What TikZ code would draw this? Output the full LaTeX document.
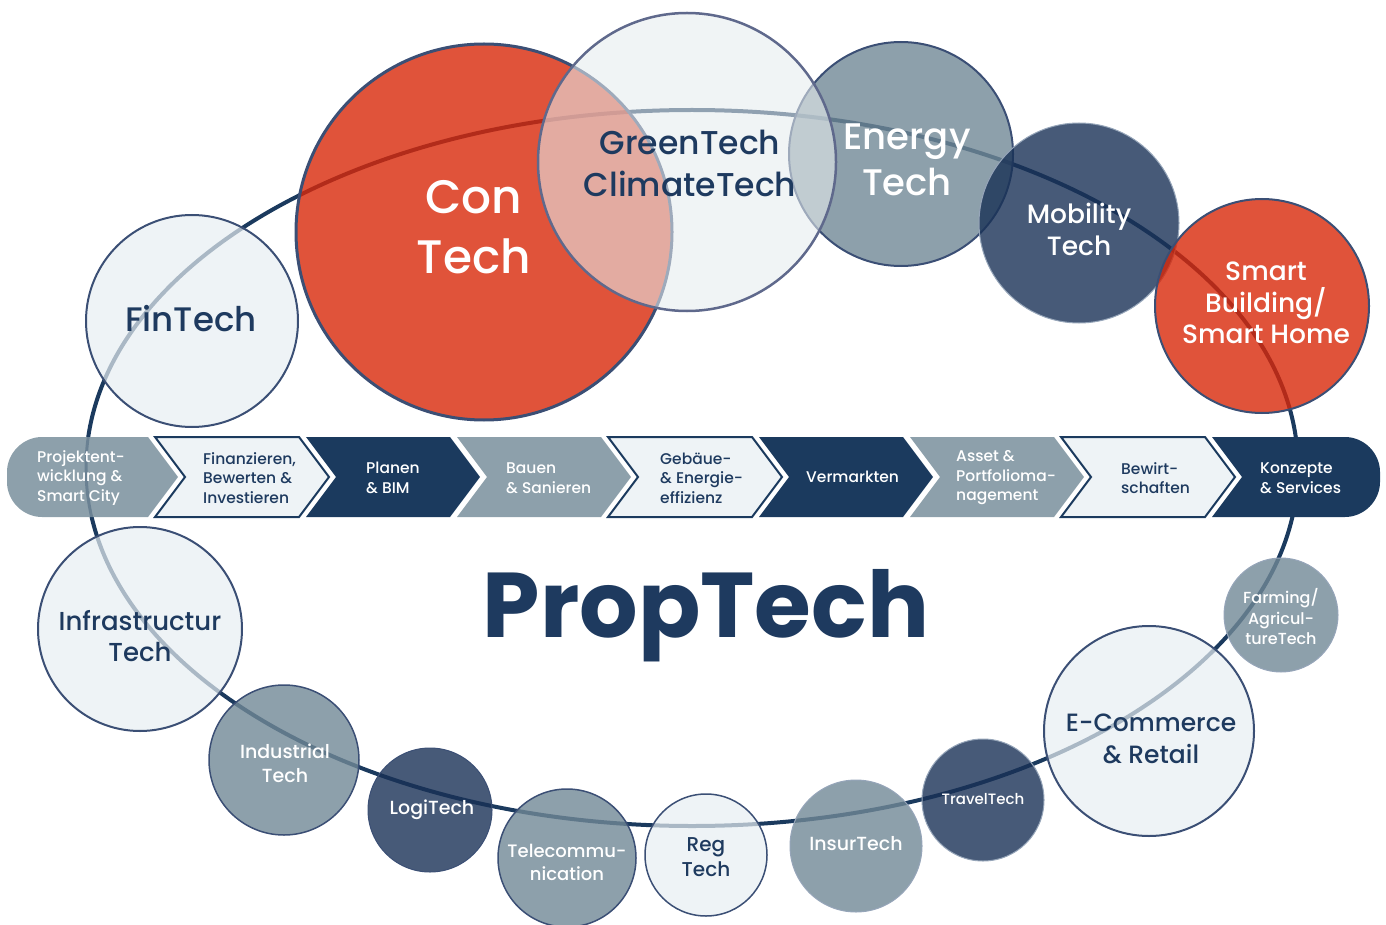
\documentclass[tikz,border=0pt]{standalone}
\usepackage{fontspec}
\IfFontExistsTF{Poppins Medium}{\setmainfont{Poppins Medium}[BoldFont={Poppins Bold}]}{\setmainfont{Poppins}}
\definecolor{navy}{RGB}{27,58,94}
\definecolor{bandgray}{RGB}{141,160,171}
\definecolor{lightc}{RGB}{238,243,246}
\definecolor{txtnavy}{RGB}{30,58,95}
\definecolor{edge}{RGB}{59,79,117}
\definecolor{edgegreen}{RGB}{95,105,140}
\definecolor{edgelight}{RGB}{150,165,185}
\definecolor{lightb}{RGB}{231,238,242}
\definecolor{grayb}{RGB}{113,136,150}
\definecolor{slateb}{RGB}{25,49,86}
\definecolor{redb}{RGB}{216,40,9}
\definecolor{greenb}{RGB}{230,236,238}
\newcommand{\fsz}[2]{\fontsize{#1}{#2}\selectfont}
\newcommand{\chevron}[2]{\filldraw[#2] (#1,437) -- ++(144,0) -- ++(30,40) -- ++(-30,40) -- ++(-144,0) -- ++(30,-40) -- cycle;}
\tikzset{
  circ/.style={circle, inner sep=0pt, minimum size=#1},
  lightcirc/.style={fill=lightb, fill opacity=0.7, draw=edge, line width=2pt},
  graycirc/.style={fill=grayb, fill opacity=0.8, draw=edge, line width=1.5pt},
  graycircl/.style={fill=grayb, fill opacity=0.8, draw=edgelight, line width=1pt},
  slatecirc/.style={fill=slateb, fill opacity=0.8, draw=edgelight, line width=1pt},
  redcirc/.style={fill=redb, fill opacity=0.8, draw=edge, line width=2pt},
  lab/.style={align=center, inner sep=0pt},
  wlab/.style={lab, text=white},
  nlab/.style={lab, text=txtnavy},
  segtxt/.style={anchor=west, align=left, inner sep=0pt, font=\fsz{15.5}{19.5}},
  seggray/.style={fill=bandgray, draw=none},
  segnavy/.style={fill=navy, draw=none},
  seglight/.style={fill=lightc, draw=navy, line width=2pt},
}
\begin{document}
\begin{tikzpicture}[x=1pt,y=-1pt]
\useasboundingbox (0,0) rectangle (1386,925);
% big ellipse
\draw[navy, line width=4pt] (692,468) ellipse [x radius=606, y radius=358];
% band
\fill[bandgray] (148,437) -- (42,437) .. controls (23,437) and (7,453) .. (7,472)
  -- (7,482) .. controls (7,501) and (23,517) .. (42,517) -- (148,517) -- (178,477) -- cycle;
\chevron{155}{seglight}
\chevron{306}{segnavy}
\chevron{457}{seggray}
\chevron{608}{seglight}
\chevron{759}{segnavy}
\chevron{910}{seggray}
\chevron{1061}{seglight}
\fill[navy] (1212,437) -- (1345,437) .. controls (1364,437) and (1380,453) .. (1380,472)
  -- (1380,482) .. controls (1380,501) and (1364,517) .. (1345,517) -- (1212,517) -- (1242,477) -- cycle;
\begin{scope}
\clip (0,437) rectangle (1386,517);
\draw[navy, line width=3pt, opacity=0.3] (692,468) ellipse [x radius=606, y radius=358];
\end{scope}
\node[segtxt, text=white] (s1) at (37,478) {Projektent-\\wicklung \&\\Smart City};
\node[segtxt, text=txtnavy] (s2) at (203,478) {Finanzieren,\\Bewerten \&\\Investieren};
\node[segtxt, text=white] (s3) at (366,478) {Planen\\\& BIM};
\node[segtxt, text=white] (s4) at (506,478) {Bauen\\\& Sanieren};
\node[segtxt, text=txtnavy] (s5) at (660,478) {Gebäue-\\\& Energie-\\effizienz};
\node[segtxt, text=white] (s6) at (806,477) {Vermarkten};
\node[segtxt, text=white] (s7) at (956,478) {Asset \&\\Portfolioma-\\nagement};
\node[segtxt, text=txtnavy] (s8) at (1121,478) {Bewirt-\\schaften};
\node[segtxt, text=white] (s9) at (1260,478) {Konzepte\\\& Services};
% lower circles
\node[circ=212, lightcirc] (fin) at (192,321) {};
\node[circ=204, lightcirc] (infra) at (140,629) {};
\node[circ=150, graycirc] (indu) at (284,760) {};
\node[circ=124, slatecirc, draw=edge] (logi) at (430,810) {};
\node[circ=138, graycirc] (tele) at (567,858) {};
\node[circ=122, lightcirc, line width=1.5pt] (reg) at (706,855) {};
\node[circ=132, graycircl] (insur) at (856,846) {};
\node[circ=122, slatecirc] (travel) at (983,800) {};
\node[circ=210, lightcirc] (ecom) at (1149,731) {};
\node[circ=114, graycircl] (farm) at (1281,615) {};
% upper circles
\node[circ=376, redcirc, line width=3pt] (con) at (484,232) {};
\node[circ=224, graycirc, line width=2pt] (energy) at (901,154) {};
\node[circ=298, fill=greenb, fill opacity=0.58, draw=edgegreen, line width=2.5pt] (green) at (687,162) {};
\node[circ=200, slatecirc] (mob) at (1079,223) {};
\node[circ=214, redcirc] (smart) at (1262,306) {};
% labels
\node[wlab, font=\fsz{47}{60}] (con-t) at (474,227) {Con\\Tech};
\node[nlab, font=\fsz{33}{42}] (green-t) at (690,163) {GreenTech\\ClimateTech};
\node[wlab, font=\fsz{37}{46}] (energy-t) at (907,160) {Energy\\Tech};
\node[wlab, font=\fsz{26.5}{32}] (mob-t) at (1079,229) {Mobility\\Tech};
\node[wlab, font=\fsz{26.5}{31.5}] (smart-t) at (1266,303) {Smart\\Building/\\Smart Home};
\node[nlab, font=\fsz{34}{40}] (fin-t) at (191,319) {FinTech};
\node[nlab, font=\fsz{26}{31}] (infra-t) at (140,636) {Infrastructur\\Tech};
\node[wlab, font=\fsz{19}{24}] (indu-t) at (285,763) {Industrial\\Tech};
\node[wlab, font=\fsz{19}{24}] (logi-t) at (432,810) {LogiTech};
\node[wlab, font=\fsz{18}{23}] (tele-t) at (567,862) {Telecommu-\\nication};
\node[nlab, font=\fsz{20}{25}] (reg-t) at (706,857) {Reg\\Tech};
\node[wlab, font=\fsz{19}{24}] (insur-t) at (856,844) {InsurTech};
\node[wlab, font=\fsz{15}{18}] (travel-t) at (983,799) {TravelTech};
\node[nlab, font=\fsz{25}{32}] (ecom-t) at (1151,739) {E-Commerce\\\& Retail};
\node[wlab, font=\fsz{16}{20.5}] (farm-t) at (1281,617) {Farming/\\Agricul-\\tureTech};
\node[text=txtnavy, inner sep=0pt, anchor=base, font=\fsz{92}{92}\bfseries] (prop) at (706,637) {PropTech};
\end{tikzpicture}
\end{document}
